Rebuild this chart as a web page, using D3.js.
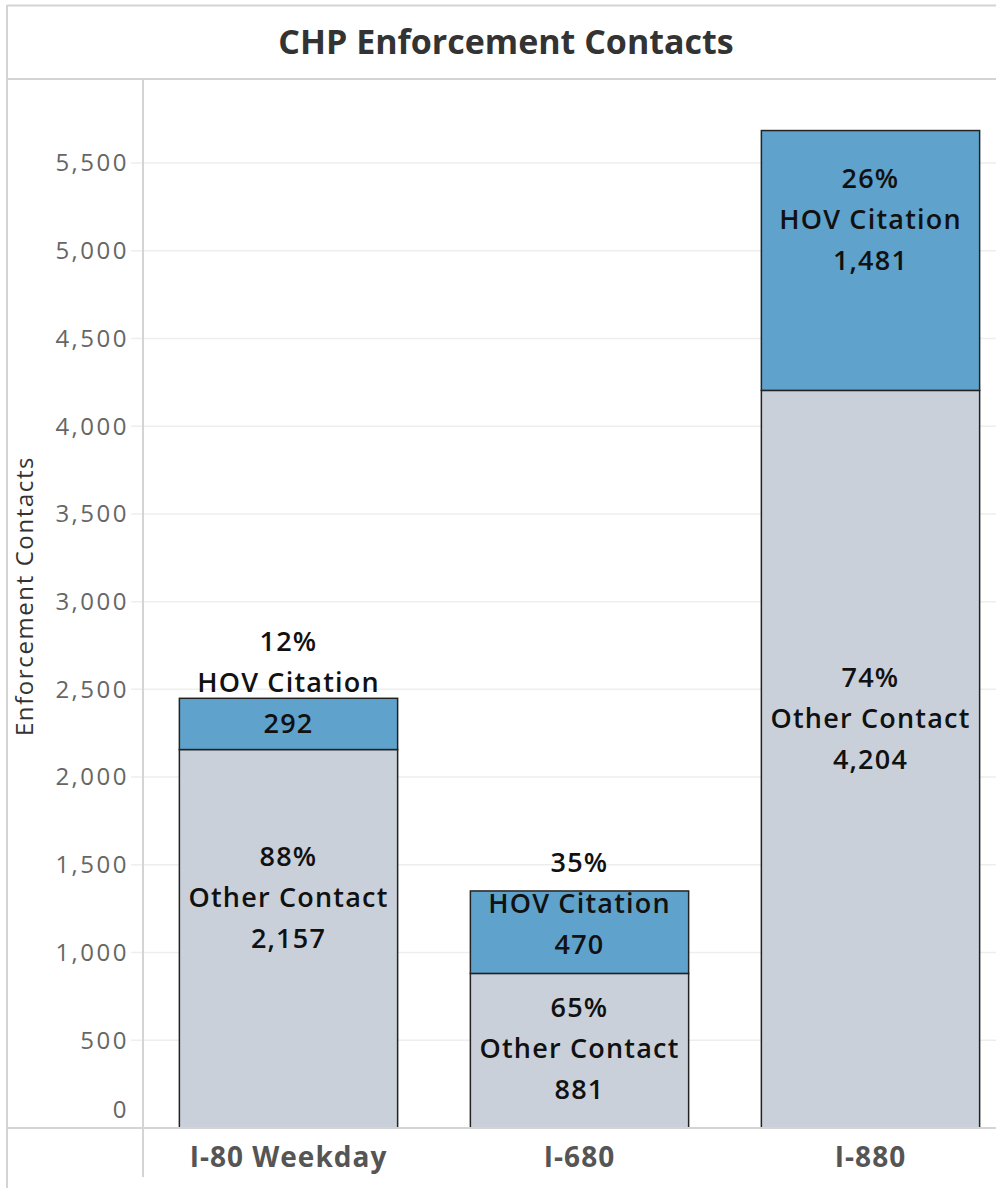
<!DOCTYPE html>
<meta charset="utf-8">
<script src="https://d3js.org/d3.v7.min.js"></script>
<style>
  body { margin: 0; background: #fff; }
  text { font-family: "Open Sans", "Noto Sans", sans-serif; }
</style>
<div id="my_dataviz"></div>
<script>

// data
var categories = ["I-80 Weekday", "I-680", "I-880"];
var otherContact = [2157, 881, 4204];
var hovCitation = [292, 470, 1481];
var yTicks = [0, 500, 1000, 1500, 2000, 2500, 3000, 3500, 4000, 4500, 5000, 5500];

// nudge of the label block (px) when it won't sit centred in its segment
var labelShift = { other: [0, 39, 0], hov: [0, 12, 0] };

var W = 996, H = 1188;
var plot = {left: 143, right: 1016, top: 79, base: 1128};

var svg = d3.select("#my_dataviz")
  .append("svg")
    .attr("width", W)
    .attr("height", H);

// frame lines
svg.append("line").attr("x1", 7).attr("x2", W).attr("y1", 5.5).attr("y2", 5.5)
    .attr("stroke", "#d4d4d4").attr("stroke-width", 2);
svg.append("line").attr("x1", 7).attr("x2", 7).attr("y1", 5).attr("y2", H)
    .attr("stroke", "#d4d4d4").attr("stroke-width", 2);
svg.append("line").attr("x1", 7).attr("x2", W).attr("y1", 79).attr("y2", 79)
    .attr("stroke", "#d4d4d4").attr("stroke-width", 2);

// title
svg.append("text")
    .attr("x", 506).attr("y", 42)
    .attr("dy", "0.35em")
    .style("text-anchor", "middle")
    .style("font-size", "34px").style("font-weight", "700")
    .style("fill", "#333")
    .text("CHP Enforcement Contacts");

var x = d3.scaleBand()
    .domain(categories)
    .range([plot.left, plot.right])
    .paddingInner(0.25)
    .paddingOuter(0.125);

var y = d3.scaleLinear()
    .domain([0, 5500])
    .range([plot.base, 163]);

// gridlines
svg.append("g")
  .selectAll("line")
  .data(yTicks.filter(function(d) { return d > 0; }))
  .enter().append("line")
    .attr("x1", 131).attr("x2", W)
    .attr("y1", function(d) { return y(d); })
    .attr("y2", function(d) { return y(d); })
    .attr("stroke", "#eeeeee").attr("stroke-width", 1.5);

// y tick labels
svg.append("g")
  .selectAll("text")
  .data(yTicks)
  .enter().append("text")
    .attr("x", 129)
    .attr("y", function(d) { return d === 0 ? y(d) - 18 : y(d); })
    .attr("dy", "0.35em")
    .style("text-anchor", "end")
    .style("font-size", "24px")
    .style("letter-spacing", "2.5px")
    .style("fill", "#666")
    .text(function(d) { return d3.format(",")(d); });

// y axis title
svg.append("text")
    .attr("transform", "translate(33,596) rotate(-90)")
    .style("text-anchor", "middle")
    .style("font-size", "24px")
    .style("letter-spacing", "1.6px")
    .style("fill", "#333")
    .text("Enforcement Contacts");

// stacked bars
var rows = categories.map(function(c, i) {
  return {cat: c, i: i, other: otherContact[i], hov: hovCitation[i], total: otherContact[i] + hovCitation[i]};
});

var bars = svg.append("g");
bars.selectAll("rect.other")
  .data(rows).enter().append("rect")
    .attr("class", "other")
    .attr("x", function(d) { return x(d.cat); })
    .attr("width", x.bandwidth())
    .attr("y", function(d) { return y(d.other); })
    .attr("height", function(d) { return y(0) - y(d.other); })
    .style("fill", "#c9d0d9")
    .style("stroke", "#222").style("stroke-width", 1.5);

bars.selectAll("rect.hov")
  .data(rows).enter().append("rect")
    .attr("class", "hov")
    .attr("x", function(d) { return x(d.cat); })
    .attr("width", x.bandwidth())
    .attr("y", function(d) { return y(d.total); })
    .attr("height", function(d) { return y(d.other) - y(d.total); })
    .style("fill", "#5fa2cc")
    .style("stroke", "#222").style("stroke-width", 1.5);

// axis lines
svg.append("line").attr("x1", plot.left).attr("x2", plot.left)
    .attr("y1", plot.top).attr("y2", 1177)
    .attr("stroke", "#d4d4d4").attr("stroke-width", 2);
svg.append("line").attr("x1", 7).attr("x2", W)
    .attr("y1", plot.base).attr("y2", plot.base)
    .attr("stroke", "#d4d4d4").attr("stroke-width", 2);

// segment labels: percent / name / value, value line at segment centre
var lineH = 41;
function addLabels(key, name) {
  rows.forEach(function(d) {
    var lo = key === "other" ? 0 : d.other;
    var hi = key === "other" ? d.other : d.total;
    var cy = (y(lo) + y(hi)) / 2 + labelShift[key][d.i];
    var pct = Math.round(d[key] / d.total * 100) + "%";
    var lines = [pct, name, d3.format(",")(d[key])];
    var cx = x(d.cat) + x.bandwidth() / 2;
    lines.forEach(function(t, k) {
      svg.append("text")
        .attr("x", cx)
        .attr("y", cy - (2 - k) * lineH)
        .attr("dy", "0.35em")
        .style("text-anchor", "middle")
        .style("font-size", "27px").style("font-weight", "600")
        .style("letter-spacing", "1.2px")
        .style("fill", "#111")
        .text(t);
    });
  });
}
addLabels("other", "Other Contact");
addLabels("hov", "HOV Citation");

// category labels
svg.append("g")
  .selectAll("text")
  .data(categories)
  .enter().append("text")
    .attr("x", function(d) { return x(d) + x.bandwidth() / 2; })
    .attr("y", 1157)
    .attr("dy", "0.35em")
    .style("text-anchor", "middle")
    .style("font-size", "28px").style("font-weight", "700")
    .style("letter-spacing", "1px")
    .style("fill", "#555")
    .text(function(d) { return d; });

</script>
